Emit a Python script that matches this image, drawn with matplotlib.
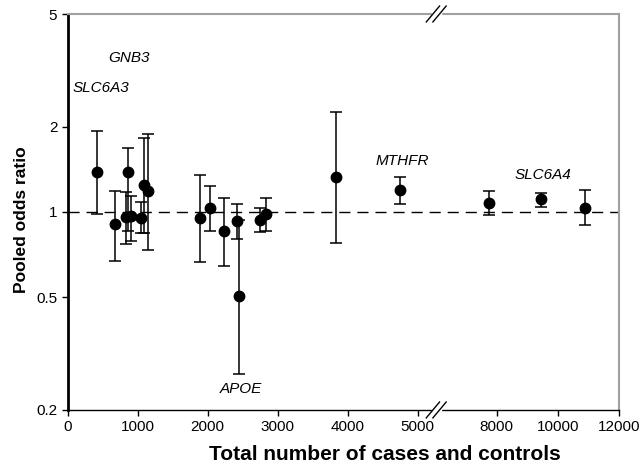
import matplotlib.pyplot as plt
import numpy as np

plt.rcParams['font.family'] = ['Liberation Sans', 'DejaVu Sans']

# total cases + controls, pooled OR with 95% CI
n_total = [419, 676, 828, 866, 900, 1047, 1090, 1152,
           1893, 2036, 2233, 2414, 2452, 2747, 2833,
           3829, 4743, 7726, 9443, 10876]
odds = [1.38, 0.905, 0.96, 1.38, 0.965, 0.956, 1.25, 1.19,
        0.956, 1.03, 0.858, 0.93, 0.507, 0.935, 0.98,
        1.327, 1.20, 1.08, 1.107, 1.034]
ci_low = [0.98, 0.674, 0.77, 0.855, 0.79, 0.84, 0.84, 0.733,
          0.665, 0.858, 0.643, 0.806, 0.267, 0.85, 0.858,
          0.778, 1.065, 0.974, 1.04, 0.898]
ci_high = [1.93, 1.19, 1.178, 1.68, 1.14, 1.086, 1.82, 1.89,
           1.35, 1.236, 1.12, 1.07, 0.94, 1.034, 1.125,
           2.26, 1.33, 1.187, 1.17, 1.20]

genes = ['SLC6A3', 'GNB3', 'APOE', 'MTHFR', 'SLC6A4']
gene_x = [76, 577, 2176, 4404, 8596]
gene_y = [2.74, 3.50, 0.2365, 1.51, 1.349]

xticks = [0, 1000, 2000, 3000, 4000, 5000, 8000, 10000, 12000]
yticks = [0.2, 0.5, 1, 2, 5]


# broken x axis: 0-5000 full scale, 8000-12000 compressed
def fwd(x):
    x = np.asarray(x, dtype=float)
    return np.where(x <= 5000, x,
                    np.where(x < 8000, 5000 + (x - 5000) * 1130 / 3000,
                             6130 + (x - 8000) * 0.4386))


def inv(u):
    u = np.asarray(u, dtype=float)
    return np.where(u <= 5000, u,
                    np.where(u < 6130, 5000 + (u - 5000) * 3000 / 1130,
                             8000 + (u - 6130) / 0.4386))


fig = plt.figure(figsize=(6.42, 4.7), dpi=100)
ax = fig.add_axes([0.1055, 0.1277, 0.8592, 0.8425])
ax.set_xscale('function', functions=(fwd, inv))
ax.set_yscale('log')
ax.set_xlim(0, 12000)
ax.set_ylim(0.2, 5)

ax.axhline(1, color='black', lw=1, dashes=(8, 5), zorder=1)

odds = np.array(odds)
yerr = [odds - np.array(ci_low), np.array(ci_high) - odds]
ax.errorbar(n_total, odds, yerr=yerr, fmt='o', color='black', ms=7.5,
            ecolor='black', elinewidth=1.1, capsize=4.5, capthick=1.1, zorder=3)

for g, gx, gy in zip(genes, gene_x, gene_y):
    ax.text(gx, gy, g, style='italic', fontsize=11, ha='left', va='center')

ax.set_xticks(xticks)
ax.set_xticklabels([str(t) for t in xticks])
ax.set_yticks(yticks)
ax.set_yticklabels(['0.2', '0.5', '1', '2', '5'])
ax.minorticks_off()
ax.tick_params(labelsize=11, length=4, width=1, direction='out')

for side in ['top', 'right']:
    ax.spines[side].set_color('#a0a0a0')
    ax.spines[side].set_linewidth(1.5)
ax.spines['left'].set_linewidth(2)
ax.spines['bottom'].set_linewidth(1)

# break marks on top and bottom spines
bx = 0.668
for by in [0, 1]:
    ax.add_patch(plt.Rectangle((bx - 0.008, by - 0.01), 0.016, 0.02,
                               transform=ax.transAxes, color='white',
                               clip_on=False, zorder=5))
    for off in [-0.006, 0.006]:
        ax.plot([bx + off - 0.012, bx + off + 0.012], [by - 0.02, by + 0.02],
                transform=ax.transAxes, color='black', lw=1,
                clip_on=False, zorder=6)

ax.set_xlabel('Total number of cases and controls', fontsize=15,
              fontweight='bold')
ax.set_ylabel('Pooled odds ratio', fontsize=12.5, fontweight='bold')
ax.xaxis.set_label_coords(0.575, -0.088)
ax.yaxis.set_label_coords(-0.07, 0.48)

fig.savefig('out.png', dpi=100)
